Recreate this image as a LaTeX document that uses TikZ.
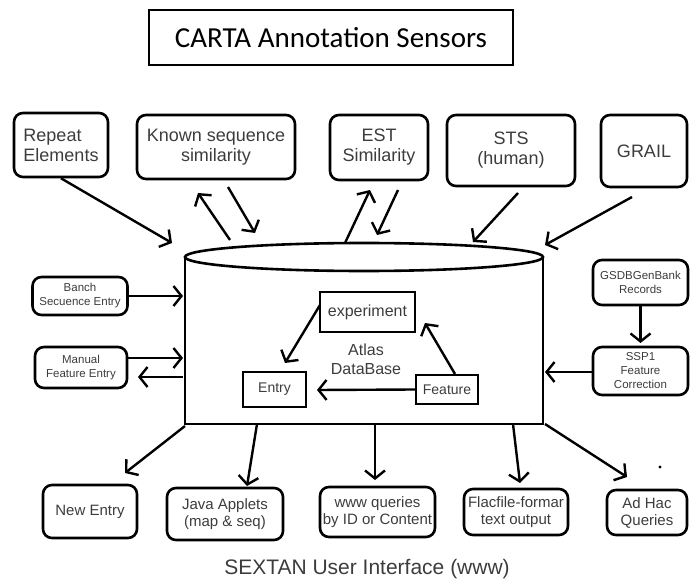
\documentclass[tikz,border=0pt]{standalone}
\usepackage{fontspec}
\setmainfont{Liberation Sans}
\newfontfamily\titlefont{Carlito}
\usetikzlibrary{arrows.meta}
\definecolor{txtgray}{HTML}{3C3C3C}

\begin{document}
\begin{tikzpicture}[x=1pt,y=-1pt,
  box/.style={draw, line width=2.6pt, rounded corners=9pt, align=center,
              text=txtgray, inner sep=1pt},
  plainbox/.style={draw, line width=2.4pt, align=center, text=txtgray, inner sep=1pt},
  arr/.style={line width=2.4pt, -{Straight Barb[length=8pt,width=20pt]}},
  fbig/.style={font=\fontsize{18}{20}\selectfont},
  fsmall/.style={font=\fontsize{11.5}{14}\selectfont},
  fmid/.style={font=\fontsize{15}{17}\selectfont},
  fin/.style={font=\fontsize{16}{19}\selectfont},
  fent/.style={font=\fontsize{14}{16}\selectfont}]
\useasboundingbox (0,0) rectangle (691,583);

% title
\node[draw, line width=1.6pt, minimum width=364pt, minimum height=55pt,
      font=\titlefont\fontsize{29}{34}\selectfont] (title) at (331,37.5)
      {CARTA Annotation Sensors};

% the database cylinder
\draw[line width=2.6pt] (185,257) -- (185,424) -- (543,424) -- (543,257);
\draw[line width=2.6pt] (364,257) ellipse [x radius=179, y radius=14];

% annotation sensors along the top
\node[box, fbig, align=left, minimum width=94pt, minimum height=64pt] (rep) at (61,145) {Repeat\\Elements};
\node[box, fbig, minimum width=158pt, minimum height=64pt] (known) at (216,147) {Known sequence\\similarity};
\node[box, fbig, minimum width=98pt, minimum height=65pt] (est) at (379,147.5) {EST\\Similarity};
\node[box, fbig, minimum width=128pt, minimum height=71pt] (sts) at (511,150.5) {STS\\(human)};
\node[box, fbig, minimum width=86pt, minimum height=72pt] (grail) at (644,151) {GRAIL};

% entry points on the left and right
\node[box, fsmall, minimum width=95pt, minimum height=38pt] (banch) at (80,296) {Banch\\Secuence Entry};
\node[box, fsmall, minimum width=92pt, minimum height=41pt] (manual) at (81,367.5) {Manual\\Feature Entry};
\node[box, fsmall, minimum width=95pt, minimum height=45pt] (gsdb) at (640.5,282.5) {GSDBGenBank\\Records};
\node[box, fsmall, minimum width=95pt, minimum height=48pt] (ssp) at (640.5,371) {SSP1\\Feature\\Correction};

% tables inside the database
\node[plainbox, fin, minimum width=95pt, minimum height=40pt] (expt) at (367.5,312) {experiment};
\node[plainbox, fent, minimum width=63pt, minimum height=35pt] (entry) at (274.5,389.5) {Entry};
\node[plainbox, fent, minimum width=62pt, minimum height=29pt] (feat) at (447,389.5) {Feature};
\node[fin, align=center, text=txtgray] (atlas) at (366,359) {Atlas\\DataBase};

% user interface outputs
\node[box, fmid, minimum width=94pt, minimum height=53pt] (newe) at (90,511.5) {New Entry};
\node[box, fmid, minimum width=116pt, minimum height=52pt] (java) at (225,514) {Java Applets\\(map \& seq)};
\node[box, fmid, minimum width=115pt, minimum height=50pt] (www) at (377.5,512) {www queries\\by ID or Content};
\node[box, fmid, minimum width=104pt, minimum height=46pt] (flat) at (516,512) {Flacfile-formar\\text output};
\node[box, fmid, minimum width=80pt, minimum height=45pt] (adhoc) at (647,512.5) {Ad Hac\\Queries};
\node[font=\fontsize{21}{24}\selectfont, text=txtgray] (sextan) at (367,569) {SEXTAN User Interface (www)};
\fill (660,467) circle (1.6pt);

% arrow end points on the cylinder and near the boxes
\coordinate (cRep) at (172,243);
\coordinate (kUpA) at (230,240);  \coordinate (kUpB) at (198,193);
\coordinate (kDnA) at (228,187);  \coordinate (kDnB) at (255,233);
\coordinate (eUpA) at (345,243);  \coordinate (eUpB) at (370,190);
\coordinate (eDnA) at (398,190);  \coordinate (eDnB) at (377,235);
\coordinate (sA) at (518,193);    \coordinate (sB) at (473,242);
\coordinate (gA) at (632,197);    \coordinate (gB) at (545,245);
\coordinate (cBanch) at (183,296);
\coordinate (cManIn) at (183,358);
\coordinate (cManOut) at (183,377);
\coordinate (mOut) at (138,377);
\coordinate (sspIn) at (640.5,343);
\coordinate (cSsp) at (545,372);
\coordinate (xA) at (320,305);    \coordinate (xB) at (285,363);
\coordinate (fA) at (455,374);    \coordinate (fB) at (425,323);
\coordinate (eA) at (317,390);
\coordinate (b1A) at (185,426);   \coordinate (b1B) at (125,473);
\coordinate (b2A) at (257,424);   \coordinate (b2B) at (247,486);
\coordinate (b3A) at (375,424);   \coordinate (b3B) at (375,480);
\coordinate (b4A) at (513,424);   \coordinate (b4B) at (520,483);
\coordinate (b5A) at (545,424);   \coordinate (b5B) at (627,477);

% connectors
\draw[arr] (rep.south) -- (cRep);
\draw[arr] (kUpA) -- (kUpB);
\draw[arr] (kDnA) -- (kDnB);
\draw[arr] (eUpA) -- (eUpB);
\draw[arr] (eDnA) -- (eDnB);
\draw[arr] (sA) -- (sB);
\draw[arr] (gA) -- (gB);
\draw[arr] (banch.east) -- (cBanch);
\draw[arr] (manual.east |- cManIn) -- (cManIn);
\draw[arr] (cManOut) -- (mOut);
\draw[arr] (gsdb.south) -- (sspIn);
\draw[arr] (ssp.west |- cSsp) -- (cSsp);
\draw[arr] (xA) -- (xB);
\draw[arr] (fA) -- (fB);
\draw[arr] (feat.west) -- (eA);
\draw[arr] (b1A) -- (b1B);
\draw[arr] (b2A) -- (b2B);
\draw[arr] (b3A) -- (b3B);
\draw[arr] (b4A) -- (b4B);
\draw[arr] (b5A) -- (b5B);
\end{tikzpicture}
\end{document}
